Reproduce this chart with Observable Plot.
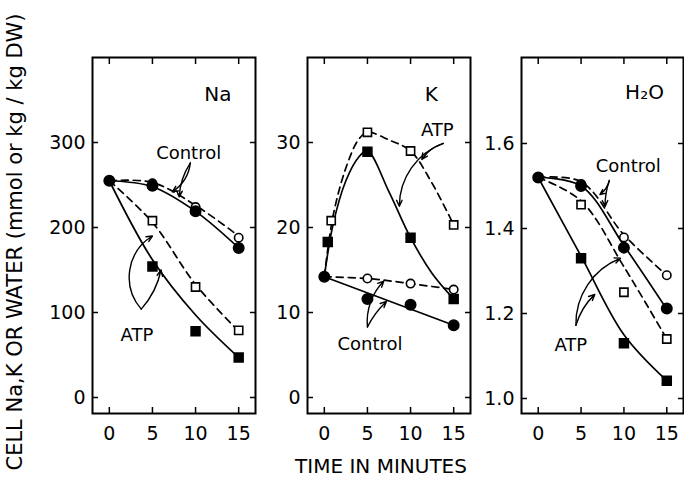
<!DOCTYPE html>
<html>
<head>
<meta charset="utf-8">
<script src="https://cdn.jsdelivr.net/npm/d3@7"></script>
<script src="https://cdn.jsdelivr.net/npm/@observablehq/plot@0.6"></script>
<style>
  html, body { margin: 0; padding: 0; background: #fff; }
  #wrap { position: relative; width: 684px; height: 478px; overflow: hidden; font-family: "DejaVu Sans", sans-serif; color: #000; }
  #wrap svg { position: absolute; left: 0; top: 0; }
  #ylab { position: absolute; left: 15px; top: 242px; transform: translate(-50%, -50%) rotate(-90deg); white-space: nowrap; font-size: 21px; line-height: 22px; }
  #xlab { position: absolute; left: 381px; top: 457px; transform: translateX(-50%); font-size: 20px; line-height: 18px; white-space: nowrap; }
</style>
</head>
<body>
<div id="wrap">
  <div id="ylab">CELL Na,K OR WATER (mmol or kg / kg DW)</div>
  <div id="xlab">TIME IN MINUTES</div>
</div>
<script>
// ---------- data ----------
const minutes = [0, 5, 10, 15];
const atpMinutes = [5, 10, 15];
const xTicks = [0, 5, 10, 15];

// Na panel (mmol/kg DW)
const naTicks = [0, 100, 200, 300];
const naCtrlFilled = [255, 249, 219, 176];
const naCtrlOpen = [255, 252, 224, 188];
const naAtpFilled = [154, 78, 47];
const naAtpOpen = [208, 130, 79];
const naCtrlSolidFit = [255, 248, 219, 176];
const naCtrlDashFit = [255, 253, 226, 190];
const naAtpSolidFit = [255, 162, 97, 47];
const naAtpDashFit = [255, 206, 133, 78];

// K panel (mmol/kg DW)
const kTicks = [0, 10, 20, 30];
const kCtrlFilled = [14.2, 11.6, 10.9, 8.5];
const kCtrlOpen = [14.2, 14.0, 13.4, 12.7];
const kAtpFilledT = [0.4, 5, 10, 15];
const kAtpFilled = [18.3, 28.9, 18.8, 11.6];
const kAtpOpenT = [0.8, 5, 10, 15];
const kAtpOpen = [20.8, 31.2, 29.0, 20.3];
const kCtrlSolidFitT = [0, 15];
const kCtrlSolidFit = [14.2, 8.5];
const kCtrlDashFit = [14.2, 14.0, 13.4, 12.7];
const kAtpFitT = [0, 1, 2.5, 4, 5, 7.5, 10, 12.5, 15];
const kAtpSolidFit = [14.2, 20.3, 25.5, 28.3, 29.0, 24.2, 18.8, 14.6, 11.6];
const kAtpDashFit = [14.2, 21.3, 27.0, 30.4, 31.2, 30.3, 29.0, 25.2, 20.3];

// H2O panel (kg/kg DW)
const h2oTicks = [1.0, 1.2, 1.4, 1.6];
const h2oCtrlFilled = [1.52, 1.50, 1.355, 1.212];
const h2oCtrlOpen = [1.52, 1.505, 1.379, 1.29];
const h2oAtpFilled = [1.33, 1.13, 1.042];
const h2oAtpOpen = [1.456, 1.25, 1.14];
const h2oCtrlSolidFit = [1.52, 1.50, 1.36, 1.21];
const h2oCtrlDashFit = [1.52, 1.51, 1.385, 1.29];
const h2oAtpSolidFit = [1.52, 1.335, 1.15, 1.042];
const h2oAtpDashFit = [1.52, 1.465, 1.31, 1.14];

// annotations: [t, value, text, size]
const naLabels = [[12.6, 356, "Na", 20], [9.2, 287, "Control", 18], [3.2, 73, "ATP", 18]];
// arrows: [t1, v1, t2, v2, bend]
const naArrows = [[9.4, 276, 7.3, 242, 25], [9.4, 276, 8.1, 236, -15], [3.7, 104, 5.0, 190, 50], [3.7, 104, 6.0, 150, -15]];
const kLabels = [[12.4, 35.6, "K", 20], [13.1, 31.5, "ATP", 18], [5.3, 6.3, "Control", 18]];
const kArrows = [[13.8, 29.9, 11.3, 28.0, -20], [13.8, 29.9, 8.7, 22.5, -35], [5.0, 8.3, 6.9, 13.7, 25], [5.0, 8.3, 7.2, 11.3, 10]];
const h2oLabels = [[12.4, 1.72, "H₂O", 20], [10.5, 1.546, "Control", 18], [3.8, 1.125, "ATP", 18]];
const h2oArrows = [[8.3, 1.513, 7.2, 1.480, 20], [8.3, 1.513, 7.8, 1.452, -10], [4.4, 1.172, 9.6, 1.33, 35], [4.4, 1.172, 6.6, 1.245, 15]];

// ---------- helpers ----------
const rows = (ts, vs) => vs.map((v, i) => ({t: ts[i], v}));
const FONT = "DejaVu Sans, sans-serif";
const xDomain = [-1.95, 16.95];
const TOP = 57, BOTTOM = 413;

function panel(cfg) {
  const fmt = cfg.fmt || (d => String(d));
  return Plot.plot({
    width: 684,
    height: 478,
    marginLeft: cfg.left,
    marginRight: 684 - cfg.right,
    marginTop: TOP,
    marginBottom: 478 - BOTTOM,
    x: {domain: xDomain},
    y: {domain: cfg.yDomain},
    style: {background: "transparent", fontFamily: FONT, fontSize: "19px", color: "#000", overflow: "visible"},
    marks: [
      Plot.frame({strokeWidth: 2}),
      Plot.axisX(xTicks, {anchor: "bottom", tickSize: -6, tickPadding: 19, strokeWidth: 1.5, label: null, fontSize: 19}),
      Plot.axisX(xTicks, {anchor: "top", tickSize: -6, tickFormat: () => "", strokeWidth: 1.5, label: null}),
      Plot.axisY(cfg.yTicks, {anchor: "left", tickSize: -6, tickPadding: 13, tickFormat: fmt, strokeWidth: 1.5, label: null, fontSize: 19}),
      Plot.axisY(cfg.yTicks, {anchor: "right", tickSize: -6, tickFormat: () => "", strokeWidth: 1.5, label: null}),
      ...cfg.lines.map(l => Plot.line(l.data, {x: "t", y: "v", curve: "catmull-rom", stroke: "#000", strokeWidth: 1.7, strokeDasharray: l.dash ? "7,5" : null})),
      ...cfg.dots.map(d => Plot.dot(d.data, {x: "t", y: "v", symbol: d.symbol, r: d.r, fill: d.filled ? "#000" : "#fff", stroke: "#000", strokeWidth: 1.6})),
      ...cfg.arrows.map(a => Plot.arrow([a], {x1: d => d[0], y1: d => d[1], x2: d => d[2], y2: d => d[3], bend: a[4], stroke: "#000", strokeWidth: 1.4, headLength: 7, headAngle: 50})),
      ...cfg.labels.map(l => Plot.text([l], {x: d => d[0], y: d => d[1], text: d => d[2], fontSize: l[3], fill: "#000"}))
    ]
  });
}

const wrap = document.getElementById("wrap");

wrap.appendChild(panel({
  left: 92, right: 255,
  yDomain: [(397 - BOTTOM) / 0.85, (397 - TOP) / 0.85],
  yTicks: naTicks,
  lines: [
    {data: rows(minutes, naCtrlSolidFit)},
    {data: rows(minutes, naCtrlDashFit), dash: true},
    {data: rows(minutes, naAtpSolidFit)},
    {data: rows(minutes, naAtpDashFit), dash: true}
  ],
  dots: [
    {data: rows(minutes, naCtrlOpen), symbol: "circle", r: 4.2},
    {data: rows(atpMinutes, naAtpOpen), symbol: "square", r: 4.6},
    {data: rows(atpMinutes, naAtpFilled), symbol: "square", r: 5, filled: true},
    {data: rows(minutes, naCtrlFilled), symbol: "circle", r: 5.2, filled: true}
  ],
  arrows: naArrows,
  labels: naLabels
}));

wrap.appendChild(panel({
  left: 307, right: 470,
  yDomain: [(397 - BOTTOM) / 8.5, (397 - TOP) / 8.5],
  yTicks: kTicks,
  lines: [
    {data: rows(kCtrlSolidFitT, kCtrlSolidFit)},
    {data: rows(minutes, kCtrlDashFit), dash: true},
    {data: rows(kAtpFitT, kAtpSolidFit)},
    {data: rows(kAtpFitT, kAtpDashFit), dash: true}
  ],
  dots: [
    {data: rows(minutes, kCtrlOpen), symbol: "circle", r: 4.2},
    {data: rows(kAtpOpenT, kAtpOpen), symbol: "square", r: 4.6},
    {data: rows(kAtpFilledT, kAtpFilled), symbol: "square", r: 5, filled: true},
    {data: rows(minutes, kCtrlFilled), symbol: "circle", r: 5.2, filled: true}
  ],
  arrows: kArrows,
  labels: kLabels
}));

wrap.appendChild(panel({
  left: 521, right: 683,
  yDomain: [1.0 + (398 - BOTTOM) / 425, 1.0 + (398 - TOP) / 425],
  yTicks: h2oTicks,
  fmt: d3.format(".1f"),
  lines: [
    {data: rows(minutes, h2oCtrlSolidFit)},
    {data: rows(minutes, h2oCtrlDashFit), dash: true},
    {data: rows(minutes, h2oAtpSolidFit)},
    {data: rows(minutes, h2oAtpDashFit), dash: true}
  ],
  dots: [
    {data: rows(minutes, h2oCtrlOpen), symbol: "circle", r: 4.2},
    {data: rows(atpMinutes, h2oAtpOpen), symbol: "square", r: 4.6},
    {data: rows(atpMinutes, h2oAtpFilled), symbol: "square", r: 5, filled: true},
    {data: rows(minutes, h2oCtrlFilled), symbol: "circle", r: 5.2, filled: true}
  ],
  arrows: h2oArrows,
  labels: h2oLabels
}));
</script>
</body>
</html>
